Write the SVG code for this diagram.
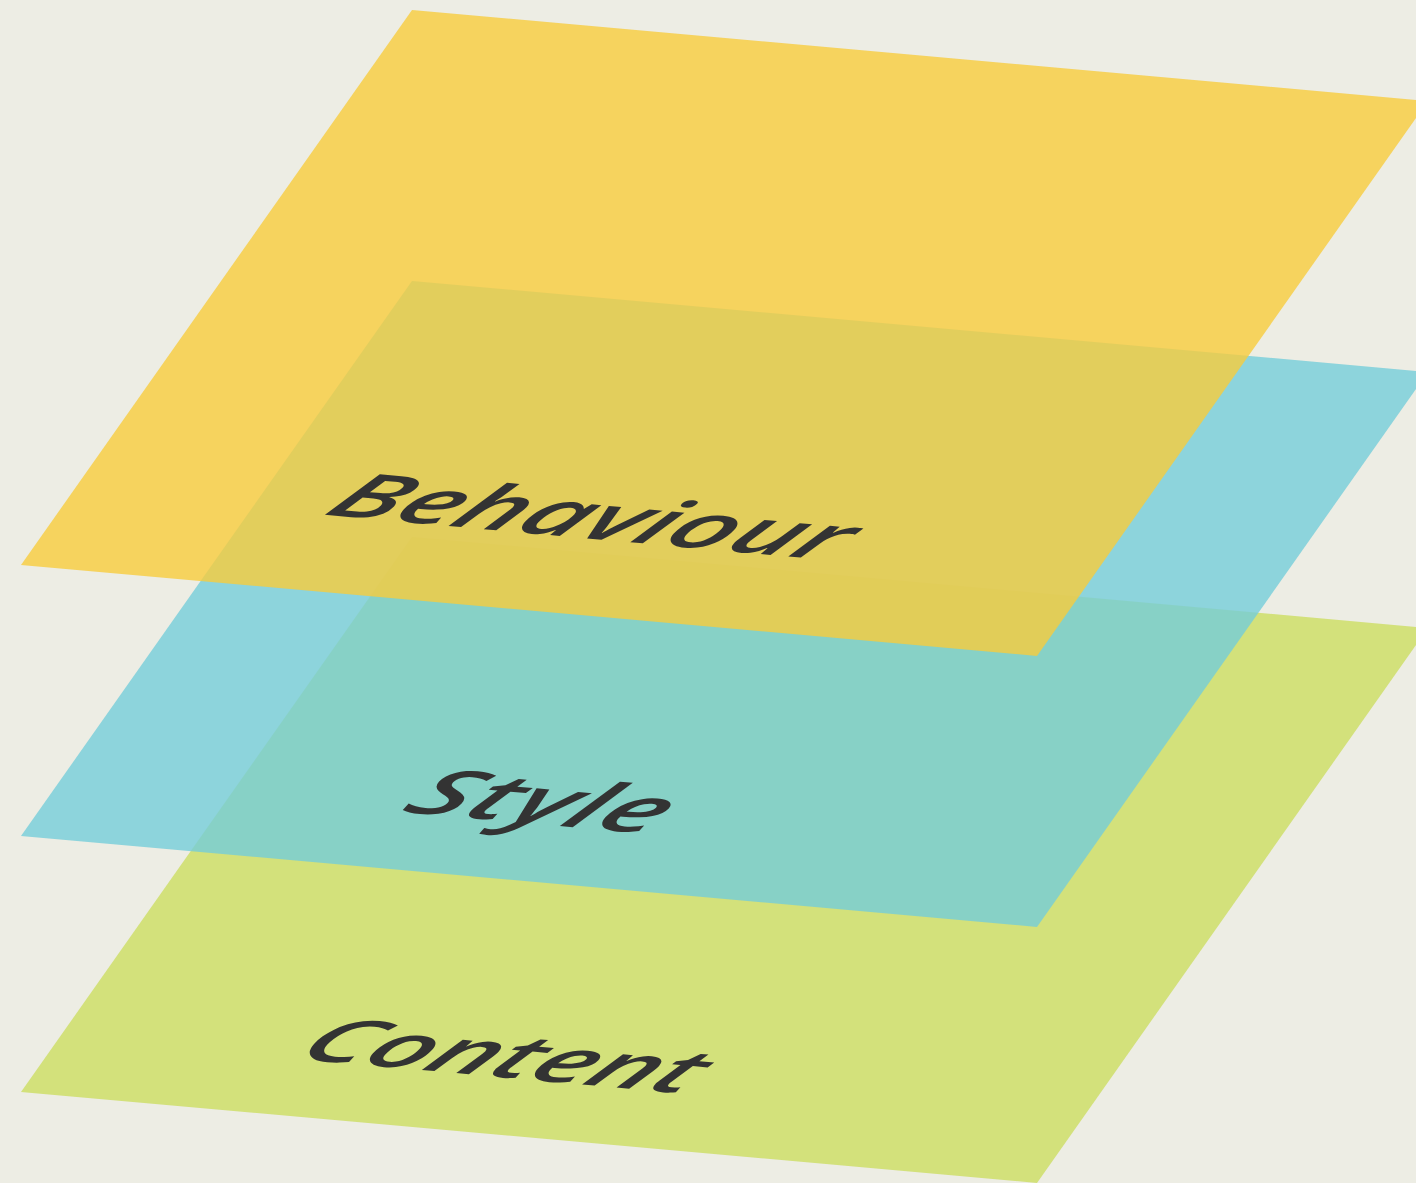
<svg xmlns="http://www.w3.org/2000/svg" width="1416" height="1183" viewBox="0 0 1416 1183">
<style>
.plane{stroke:none}
.lbl{font-family:"Open Sans","Noto Sans","DejaVu Sans",sans-serif;font-style:italic;font-weight:600;font-size:108px;fill:#333333}
</style>
<rect width="1416" height="1183" fill="#EDEDE4"/>
<g id="content" transform="matrix(1.016 0.091 -0.391 0.555 412 537)">
<polygon class="plane" points="0,0 1000,0 1000,1000 0,1000" fill="#CCDD60" fill-opacity="0.8"/>
<text class="lbl" transform="translate(230,902) skewX(-6)" style="font-size:106px">Content</text>
</g>
<g id="style" transform="matrix(1.016 0.091 -0.391 0.555 412 281)">
<polygon class="plane" points="0,0 1000,0 1000,1000 0,1000" fill="#74CDDA" fill-opacity="0.8"/>
<text class="lbl" transform="translate(334,901) skewX(-6)" style="font-size:111px" letter-spacing="1">Style</text>
</g>
<g id="behaviour" transform="matrix(1.016 0.091 -0.391 0.555 412 10)">
<polygon class="plane" points="0,0 1000,0 1000,1000 0,1000" fill="#F8CC3C" fill-opacity="0.8"/>
<text class="lbl" transform="translate(245,869) skewX(-6)">Behaviour</text>
</g>
</svg>
